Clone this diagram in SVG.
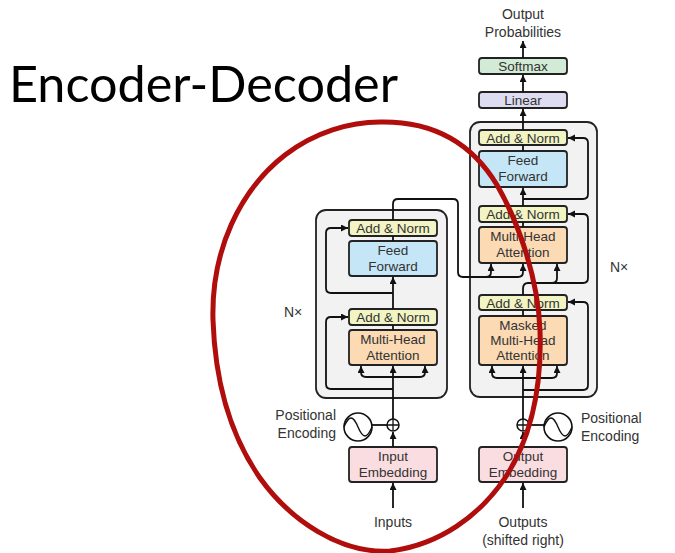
<svg xmlns="http://www.w3.org/2000/svg" width="675" height="553" viewBox="0 0 675 553">
  <style>
    .stack { fill: #f2f2f2; stroke: #222; stroke-width: 1.8; }
    .box { stroke: #222; stroke-width: 1.8; }
    .addnorm { fill: #f2f4c3; }
    .ff { fill: #c4e6f6; }
    .mha { fill: #fcdab4; }
    .emb { fill: #f9dde0; }
    .softmax { fill: #d2ebd6; }
    .linear { fill: #dedcf1; }
    .lbl { font-family: "Liberation Sans", Arial, sans-serif; font-size: 13.5px; fill: #333; text-anchor: middle; }
    .side { font-family: "Liberation Sans", Arial, sans-serif; font-size: 14px; fill: #333; }
    .wire { fill: none; stroke: #111; stroke-width: 1.8; }
    .arrow { marker-end: url(#head); }
    .title { font-family: Lato, "Open Sans", sans-serif; font-size: 51px; fill: #000; }
    .loop { fill: none; stroke: #b00d0d; stroke-width: 5; }
  </style>
  <defs>
    <marker id="head" markerUnits="userSpaceOnUse" markerWidth="8" markerHeight="8" refX="7" refY="3.5" orient="auto">
      <path d="M0,0 L7,3.5 L0,7 Z" fill="#111"/>
    </marker>
  </defs>

  <rect width="675" height="553" fill="#fff"/>

  <text id="title" class="title" x="9" y="102" textLength="389" lengthAdjust="spacingAndGlyphs">Encoder-Decoder</text>

  <!-- Encoder stack -->
  <g id="encoder">
    <rect class="stack" x="316" y="210" width="131" height="188" rx="10"/>
    <text class="side" x="284" y="317">N×</text>
  </g>
  <g id="enc-addnorm-top">
    <rect class="box addnorm" x="349" y="220" width="88" height="16" rx="3"/>
    <text class="lbl" x="393" y="233">Add &amp; Norm</text>
  </g>
  <g id="enc-feedforward">
    <rect class="box ff" x="349" y="241" width="88" height="35" rx="3"/>
    <text class="lbl" x="393" y="255">Feed</text>
    <text class="lbl" x="393" y="270.5">Forward</text>
  </g>
  <g id="enc-addnorm-bottom">
    <rect class="box addnorm" x="349" y="309" width="88" height="16" rx="3"/>
    <text class="lbl" x="393" y="322">Add &amp; Norm</text>
  </g>
  <g id="enc-attention">
    <rect class="box mha" x="349" y="330" width="88" height="35" rx="3"/>
    <text class="lbl" x="393" y="344">Multi-Head</text>
    <text class="lbl" x="393" y="359.5">Attention</text>
  </g>
  <g id="enc-embedding">
    <rect class="box emb" x="349" y="447" width="88" height="35" rx="3"/>
    <text class="lbl" x="393" y="461">Input</text>
    <text class="lbl" x="393" y="476.5">Embedding</text>
  </g>
  <g id="enc-positional">
    <circle cx="358" cy="427" r="14" fill="#fff" stroke="#111" stroke-width="1.6"/>
    <path d="M344,427 C349,415 353,415 358,427 C363,439 367,439 372,427" fill="none" stroke="#111" stroke-width="1.4"/>
    <text class="side" x="336" y="420" text-anchor="end">Positional</text>
    <text class="side" x="336" y="438" text-anchor="end">Encoding</text>
  </g>
  <g id="enc-add">
    <circle cx="393" cy="425" r="6" fill="#fff" stroke="#111" stroke-width="1.5"/>
    <path d="M387,425 H399 M393,419 V431" stroke="#111" stroke-width="1.3"/>
  </g>
  <g id="inputs">
    <text class="side" x="393" y="527" text-anchor="middle">Inputs</text>
  </g>

  <!-- Decoder stack -->
  <g id="decoder">
    <rect class="stack" x="470" y="122" width="127" height="275" rx="10"/>
    <text class="side" x="610" y="272">N×</text>
  </g>
  <g id="dec-addnorm-top">
    <rect class="box addnorm" x="479" y="130" width="88" height="15" rx="3"/>
    <text class="lbl" x="523" y="142.5">Add &amp; Norm</text>
  </g>
  <g id="dec-feedforward">
    <rect class="box ff" x="479" y="151" width="88" height="36" rx="3"/>
    <text class="lbl" x="523" y="165">Feed</text>
    <text class="lbl" x="523" y="181">Forward</text>
  </g>
  <g id="dec-addnorm-mid">
    <rect class="box addnorm" x="479" y="206" width="88" height="16" rx="3"/>
    <text class="lbl" x="523" y="219">Add &amp; Norm</text>
  </g>
  <g id="dec-attention">
    <rect class="box mha" x="479" y="227" width="88" height="36" rx="3"/>
    <text class="lbl" x="523" y="241">Multi-Head</text>
    <text class="lbl" x="523" y="257">Attention</text>
  </g>
  <g id="dec-addnorm-bottom">
    <rect class="box addnorm" x="479" y="295" width="88" height="15" rx="3"/>
    <text class="lbl" x="523" y="307.5">Add &amp; Norm</text>
  </g>
  <g id="dec-masked-attention">
    <rect class="box mha" x="479" y="316" width="88" height="49" rx="3"/>
    <text class="lbl" x="523" y="330">Masked</text>
    <text class="lbl" x="523" y="345">Multi-Head</text>
    <text class="lbl" x="523" y="360">Attention</text>
  </g>
  <g id="dec-embedding">
    <rect class="box emb" x="479" y="447" width="88" height="35" rx="3"/>
    <text class="lbl" x="523" y="461">Output</text>
    <text class="lbl" x="523" y="476.5">Embedding</text>
  </g>
  <g id="dec-positional">
    <circle cx="558" cy="427" r="14" fill="#fff" stroke="#111" stroke-width="1.6"/>
    <path d="M544,427 C549,415 553,415 558,427 C563,439 567,439 572,427" fill="none" stroke="#111" stroke-width="1.4"/>
    <text class="side" x="581" y="423">Positional</text>
    <text class="side" x="581" y="441">Encoding</text>
  </g>
  <g id="dec-add">
    <circle cx="523" cy="425" r="6" fill="#fff" stroke="#111" stroke-width="1.5"/>
    <path d="M517,425 H529 M523,419 V431" stroke="#111" stroke-width="1.3"/>
  </g>
  <g id="outputs">
    <text class="side" x="523" y="527" text-anchor="middle">Outputs</text>
    <text class="side" x="523" y="545" text-anchor="middle">(shifted right)</text>
  </g>
  <g id="linear">
    <rect class="box linear" x="479" y="92" width="88" height="16" rx="3"/>
    <text class="lbl" x="523" y="105">Linear</text>
  </g>
  <g id="softmax">
    <rect class="box softmax" x="479" y="58" width="88" height="16" rx="3"/>
    <text class="lbl" x="523" y="71">Softmax</text>
  </g>
  <g id="probabilities">
    <text class="side" x="523" y="19" text-anchor="middle">Output</text>
    <text class="side" x="523" y="37" text-anchor="middle">Probabilities</text>
  </g>

  <!-- Connectors -->
  <g id="connectors">
    <!-- encoder -->
    <path class="wire arrow" d="M393,508 V483"/>
    <path class="wire arrow" d="M393,447 V432"/>
    <path class="wire" d="M372,425 H387"/>
    <path class="wire arrow" d="M393,419 V366"/>
    <path class="wire arrow" d="M393,377 H366 Q361,377 361,372 V366"/>
    <path class="wire arrow" d="M393,377 H420 Q425,377 425,372 V366"/>
    <path class="wire arrow" d="M393,389 H331 Q326,389 326,384 V322 Q326,317 331,317 H348"/>
    <path class="wire" d="M393,330 V325"/>
    <path class="wire arrow" d="M393,309 V277"/>
    <path class="wire arrow" d="M393,293 H331 Q326,293 326,288 V233 Q326,228 331,228 H348"/>
    <path class="wire" d="M393,241 V236"/>
    <path class="wire arrow" d="M393,220 V204 Q393,199 398,199 H453 Q458,199 458,204 V272 Q458,277 463,277 H486 Q491,277 491,272 V264"/>
    <path class="wire arrow" d="M486,277 H518 Q523,277 523,272 V264"/>
    <!-- decoder -->
    <path class="wire arrow" d="M523,508 V483"/>
    <path class="wire arrow" d="M523,447 V432"/>
    <path class="wire" d="M529,425 H544"/>
    <path class="wire arrow" d="M523,419 V366"/>
    <path class="wire arrow" d="M523,378 H497 Q492,378 492,373 V366"/>
    <path class="wire arrow" d="M523,378 H552 Q557,378 557,373 V366"/>
    <path class="wire arrow" d="M523,390 H583 Q588,390 588,385 V307 Q588,302 583,302 H568"/>
    <path class="wire" d="M523,316 V310"/>
    <path class="wire arrow" d="M523,295 V289 Q523,283 528,283 H552 Q557,283 557,278 V264"/>
    <path class="wire arrow" d="M552,283 H583 Q588,283 588,278 V219 Q588,214 583,214 H568"/>
    <path class="wire" d="M523,227 V222"/>
    <path class="wire arrow" d="M523,206 V188"/>
    <path class="wire arrow" d="M523,199 H583 Q588,199 588,194 V143 Q588,138 583,138 H568"/>
    <path class="wire" d="M523,151 V145"/>
    <path class="wire arrow" d="M523,130 V109"/>
    <path class="wire arrow" d="M523,92 V75"/>
    <path class="wire arrow" d="M523,58 V41"/>
  </g>

  <!-- hand-drawn highlight loop around the encoder -->
  <path id="highlight" class="loop" d="M380,122 C430,121 470,140 497,185 C520,225 538,280 540,330 C542,390 530,440 505,478 C480,515 440,545 390,551 C340,554 290,520 260,478 C230,435 215,380 213,320 C211,250 240,190 285,155 C315,132 350,122 380,122 Z"/>
</svg>
